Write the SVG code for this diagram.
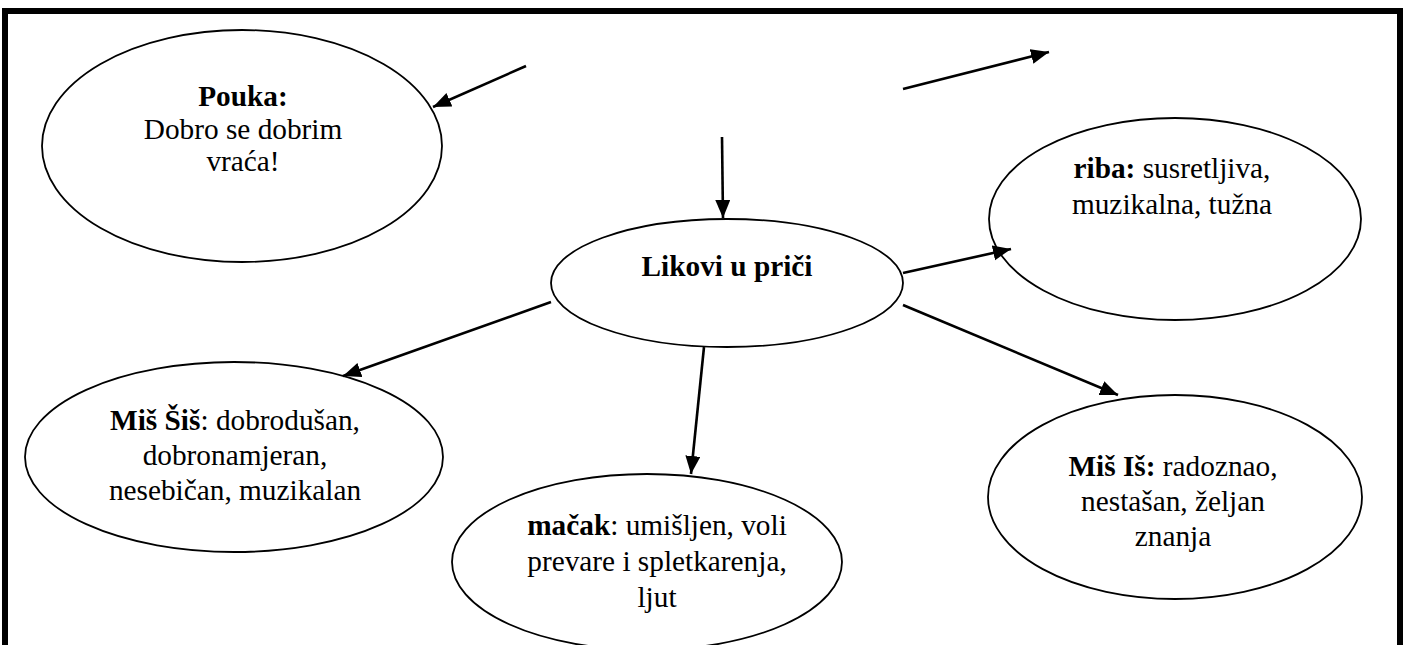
<svg xmlns="http://www.w3.org/2000/svg" width="1407" height="645" viewBox="0 0 1407 645">
<defs>
<marker id="ah" markerUnits="userSpaceOnUse" markerWidth="20" markerHeight="16" refX="18" refY="7.5" orient="auto">
<path d="M0,0 L18,7.5 L0,15 z" fill="#000"/>
</marker>
<style>
.n{fill:#fff;stroke:#000;stroke-width:1.8}
.t{font-family:"Liberation Serif","Times New Roman",serif;font-size:29.3px;fill:#000;text-anchor:middle}
.b{font-weight:bold}
.c line{stroke:#000;stroke-width:2.6;marker-end:url(#ah)}
</style>
</defs>
<rect width="1407" height="645" fill="#fff"/>
<path d="M5,650 V11 H1400 V650" fill="none" stroke="#000" stroke-width="6" stroke-linejoin="miter"/>
<g id="pouka">
<ellipse class="n" cx="242" cy="146" rx="200" ry="116"/>
<text class="t b" x="243" y="106">Pouka:</text>
<text class="t" x="243" y="139">Dobro se dobrim</text>
<text class="t" x="243" y="171">vraća!</text>
</g>
<g id="likovi">
<ellipse class="n" cx="727" cy="283" rx="176" ry="64"/>
<text class="t b" x="727" y="276">Likovi u priči</text>
</g>
<g id="riba">
<ellipse class="n" cx="1175" cy="219" rx="186" ry="101"/>
<text class="t" x="1172" y="178"><tspan class="b">riba:</tspan> susretljiva,</text>
<text class="t" x="1172" y="214">muzikalna, tužna</text>
</g>
<g id="mis-sis">
<ellipse class="n" cx="234" cy="457" rx="209" ry="95"/>
<text class="t" x="235" y="430"><tspan class="b">Miš Šiš</tspan>: dobrodušan,</text>
<text class="t" x="235" y="465">dobronamjeran,</text>
<text class="t" x="235" y="500">nesebičan, muzikalan</text>
</g>
<g id="macak">
<ellipse class="n" cx="647" cy="562" rx="195" ry="88"/>
<text class="t" x="657" y="535"><tspan class="b">mačak</tspan>: umišljen, voli</text>
<text class="t" x="657" y="571">prevare i spletkarenja,</text>
<text class="t" x="657" y="607">ljut</text>
</g>
<g id="mis-is">
<ellipse class="n" cx="1175" cy="497" rx="187" ry="102"/>
<text class="t" x="1173" y="476"><tspan class="b">Miš Iš:</tspan> radoznao,</text>
<text class="t" x="1173" y="511">nestašan, željan</text>
<text class="t" x="1173" y="546">znanja</text>
</g>
<g id="connectors" class="c">
<line x1="526" y1="66" x2="433" y2="107"/>
<line x1="903" y1="89" x2="1049" y2="52"/>
<line x1="722" y1="137" x2="723" y2="218"/>
<line x1="903" y1="273" x2="1011" y2="249"/>
<line x1="903" y1="305" x2="1118" y2="395"/>
<line x1="551" y1="302" x2="343" y2="376"/>
<line x1="704" y1="347" x2="691" y2="474"/>
</g>
</svg>
